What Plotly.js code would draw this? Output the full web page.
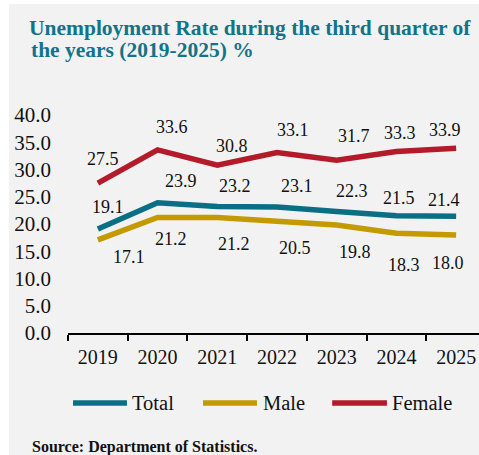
<!DOCTYPE html>
<html>
<head>
<meta charset="utf-8">
<script src="https://cdn.plot.ly/plotly-3.0.1.min.js"></script>
<style>
  html, body { margin: 0; padding: 0; background: #ffffff; overflow: hidden; width: 479px; height: 455px; }
  #bg { position: absolute; left: 9px; top: 4px; right: 0; bottom: 0; background: #f2f2f2; }
  #chart { position: absolute; left: 0; top: 0; width: 500px; height: 455px; }
</style>
</head>
<body>
<div id="bg"></div>
<div id="chart"></div>
<script>
// ---- data ----
const years = ["2019", "2020", "2021", "2022", "2023", "2024", "2025"];
const totalRate = [19.1, 23.9, 23.2, 23.1, 22.3, 21.5, 21.4];
const maleRate = [17.1, 21.2, 21.2, 20.5, 19.8, 18.3, 18.0];
const femaleRate = [27.5, 33.6, 30.8, 33.1, 31.7, 33.3, 33.9];
const seriesNames = ["Total", "Male", "Female"];
const titleLine1 = "Unemployment Rate during the third quarter of";
const titleLine2 = "the years (2019-2025) %";
const sourceText = "Source: Department of Statistics.";

// ---- styles ----
const colors = { Total: "#0a6f85", Male: "#c49a02", Female: "#b31b2a" };
const titleColor = "#137388";
const serif = "Liberation Serif";
// label pixel offsets (dx right, dy down) per point
const totalShift = { dx: [10, 23, 18, 20, 15, 3, -12], dy: [-22, -22, -21, -21, -20, -18, -16] };
const maleShift = { dx: [31, 13, 17, 18, 18, 8, -8], dy: [17, 22, 27, 27, 27, 32, 28] };
const femaleShift = { dx: [5, 14, 15, 16, 17, 4, -11], dy: [-24, -23, -19, -23, -24, -19, -18] };

const seriesData = { Total: totalRate, Male: maleRate, Female: femaleRate };
const seriesShift = { Total: totalShift, Male: maleShift, Female: femaleShift };

const traces = seriesNames.map(name => ({
  type: "scatter",
  mode: "lines",
  name: name,
  x: years,
  y: seriesData[name],
  line: { color: colors[name], width: 5.5 },
  showlegend: false,
  hoverinfo: "skip"
}));

const annotations = [];
seriesNames.forEach(name => {
  const vals = seriesData[name];
  const sh = seriesShift[name];
  vals.forEach((v, i) => {
    annotations.push({
      x: i, y: v, xref: "x", yref: "y",
      text: v.toFixed(1), showarrow: false,
      xanchor: "center", yanchor: "middle",
      xshift: sh.dx[i], yshift: -sh.dy[i],
      font: { family: serif, size: 18, color: "#111111" }
    });
  });
});

// custom legend (paper coordinates)
const legendPos = [
  { x0: 0.012, x1: 0.141, tx: 0.148 },
  { x0: 0.323, x1: 0.452, tx: 0.462 },
  { x0: 0.632, x1: 0.763, tx: 0.770 }
];
const legendY = -0.321;
const shapes = [];
seriesNames.forEach((name, i) => {
  const p = legendPos[i];
  shapes.push({
    type: "line", xref: "paper", yref: "paper",
    x0: p.x0, x1: p.x1, y0: legendY, y1: legendY,
    line: { color: colors[name], width: 5.5 }
  });
  annotations.push({
    xref: "paper", yref: "paper", x: p.tx, y: legendY,
    text: name, showarrow: false, xanchor: "left", yanchor: "middle",
    font: { family: serif, size: 20.5, color: "#111111" }
  });
});

// second title line
annotations.push({
  xref: "paper", yref: "paper", x: -39 / 418, y: (333 - 50) / 218,
  text: "<b>" + titleLine2 + "</b>", showarrow: false,
  xanchor: "left", yanchor: "middle",
  font: { family: serif, size: 21.5, color: titleColor }
});

annotations.push({
  xref: "paper", yref: "paper", x: -38 / 418, y: (333 - 447) / 218,
  text: "<b>" + sourceText + "</b>", showarrow: false,
  xanchor: "left", yanchor: "middle",
  font: { family: serif, size: 16, color: "#111111" }
});

const layout = {
  width: 500, height: 455,
  margin: { l: 68, r: 14, t: 115, b: 122 },
  paper_bgcolor: "rgba(0,0,0,0)",
  plot_bgcolor: "rgba(0,0,0,0)",
  title: {
    text: "<b>" + titleLine1 + "</b>",
    font: { family: serif, size: 21.5, color: titleColor },
    x: 29 / 500, xref: "container", xanchor: "left",
    y: 1 - 20 / 455, yref: "container", yanchor: "top"
  },
  xaxis: {
    type: "category",
    range: [-0.5, 6.5],
    showgrid: false, zeroline: false,
    showline: true, linecolor: "#000000", linewidth: 2,
    ticks: "outside", ticklen: 6, tickwidth: 2, tickcolor: "#000000",
    tickson: "boundaries", ticklabelstandoff: 5,
    tickfont: { family: serif, size: 20, color: "#111111" },
    fixedrange: true
  },
  yaxis: {
    range: [0, 40], dtick: 5, tick0: 0, tickformat: ".1f",
    showgrid: false, zeroline: false, showline: false,
    ticks: "", ticklabelstandoff: 16,
    tickfont: { family: serif, size: 21, color: "#111111" },
    fixedrange: true
  },
  shapes: shapes,
  annotations: annotations,
  showlegend: false
};

Plotly.newPlot("chart", traces, layout, { displayModeBar: false, staticPlot: true });
</script>
</body>
</html>
